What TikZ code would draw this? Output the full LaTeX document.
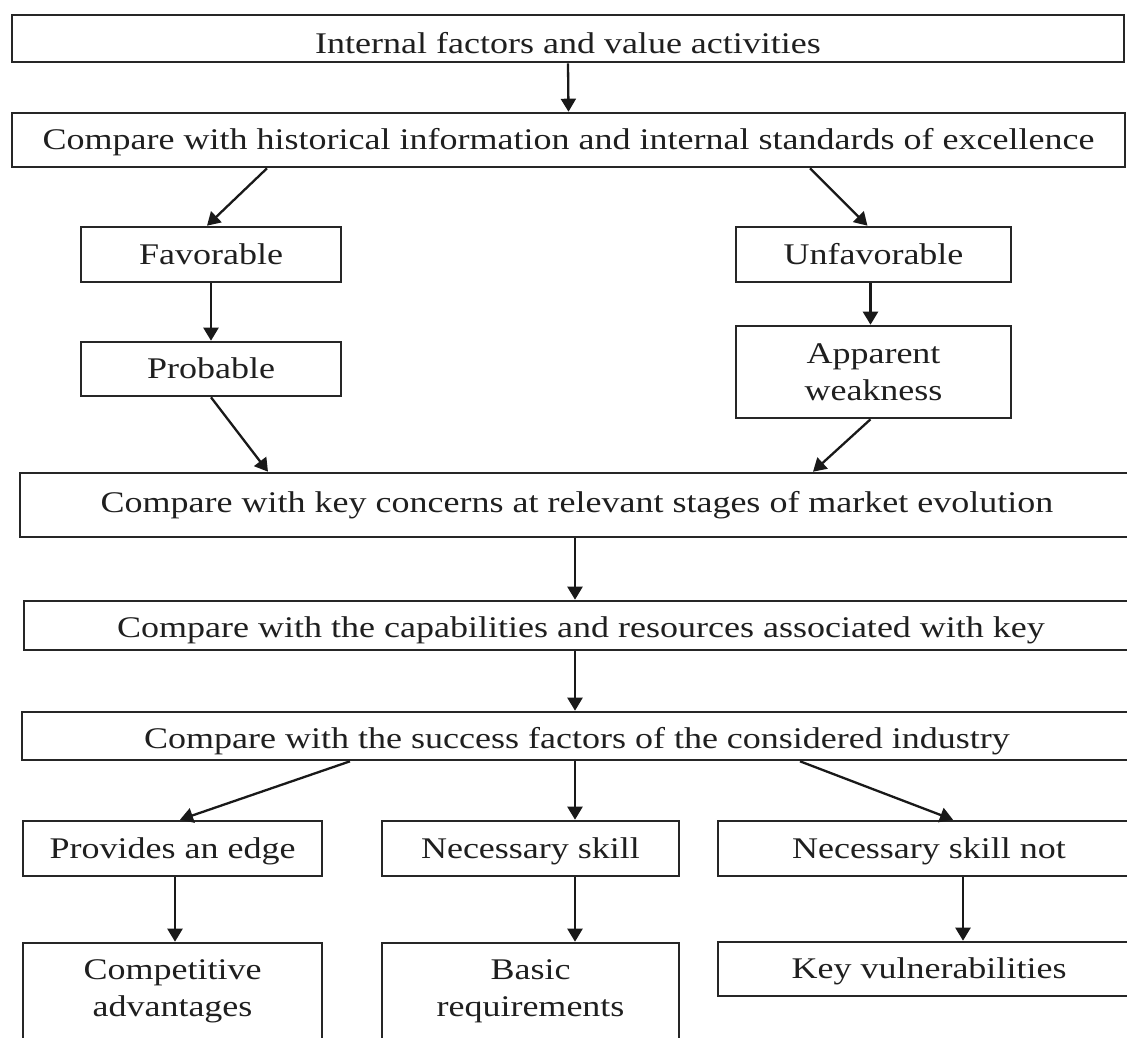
\documentclass[tikz,border=0pt]{standalone}
\usepackage{fontspec}
\setmainfont{Liberation Serif}[FakeStretch=1.2]
\usetikzlibrary{arrows.meta}
\begin{document}
\begin{tikzpicture}[x=1pt,y=-1pt,
  box/.style={draw=black!85, line width=2.6pt, inner sep=0pt, text=black!88,
    font=\fontsize{30}{37}\selectfont, text height=#1, text depth=2pt},
  box/.default=21pt,
  mbox/.style={draw=black!85, line width=2.6pt, inner sep=0pt, align=center,
    text=black!88, font=\fontsize{30}{37}\selectfont},
  flow/.style={draw=black!90, line width=2.3pt, -{Triangle[length=13pt,width=15pt]}}]
\fill[white] (0,0) rectangle (1127,1037);
\useasboundingbox (0,0) rectangle (1127,1037);
\clip (0,0) rectangle (1127,1037);

% main chain
\node[box=31pt, minimum width=1112pt, minimum height=47pt] (b1) at (568,38.5) {Internal factors and value activities};
\node[box, minimum width=1113pt, minimum height=54pt] (b2) at (568.5,140) {Compare with historical information and internal standards of excellence};

% favourable / unfavourable branches
\node[box, minimum width=260pt, minimum height=55pt] (fav) at (211,254.5) {Favorable};
\node[box, minimum width=260pt, minimum height=54pt] (prob) at (211,369) {Probable};
\node[box, minimum width=275pt, minimum height=55pt] (unf) at (873.5,254.5) {Unfavorable};
\node[mbox, minimum width=275pt, minimum height=92pt] (app) at (873.5,372) {Apparent\\weakness};

\node[box=16pt, minimum width=1114pt, minimum height=64pt] (b3) at (577,505) {Compare with key concerns at relevant stages of market evolution};
\node[box=25pt, minimum width=1114pt, minimum height=49pt] (b4) at (581,625.5) {Compare with the capabilities and resources associated with key};
\node[box=26pt, minimum width=1110pt, minimum height=48pt] (b5) at (577,736) {Compare with the success factors of the considered industry};

% outcomes
\node[box, minimum width=299pt, minimum height=55pt] (edge) at (172.5,848.5) {Provides an edge};
\node[box, minimum width=297pt, minimum height=55pt] (nec) at (530.5,848.5) {Necessary skill};
\node[box, minimum width=422pt, minimum height=55pt] (nnot) at (929,848.5) {Necessary skill not};
\node[mbox, minimum width=299pt, minimum height=97pt] (comp) at (172.5,991.5) {Competitive\\advantages};
\node[mbox, minimum width=297pt, minimum height=97pt] (basic) at (530.5,991.5) {Basic\\requirements};
\node[box, minimum width=422pt, minimum height=54pt] (key) at (929,969) {Key vulnerabilities};

% connectors
\draw[flow] (b1.south) -- (b2.north);
\draw[flow] ([xshift=-301.5pt]b2.south) -- ([xshift=-4pt]fav.north);
\draw[flow] ([xshift=241.5pt]b2.south) -- ([xshift=-6pt]unf.north);
\draw[flow] (fav.south) -- (prob.north);
\draw[flow] ([xshift=-3pt]unf.south) -- ([xshift=-3pt]app.north);
\draw[flow] (prob.south) -- ([xshift=-309pt]b3.north);
\draw[flow] ([xshift=-3pt]app.south) -- ([xshift=236pt]b3.north);
\draw[flow] ([xshift=-2pt]b3.south) -- ([xshift=-6pt]b4.north);
\draw[flow] ([xshift=-6pt]b4.south) -- ([xshift=-2pt]b5.north);
\draw[flow] ([xshift=-227pt]b5.south) -- ([xshift=7.5pt]edge.north);
\draw[flow] ([xshift=-2pt]b5.south) -- ([xshift=44.5pt]nec.north);
\draw[flow] ([xshift=223pt]b5.south) -- ([xshift=24pt]nnot.north);
\draw[flow] ([xshift=2.5pt]edge.south) -- ([xshift=2.5pt]comp.north);
\draw[flow] ([xshift=44.5pt]nec.south) -- ([xshift=44.5pt]basic.north);
\draw[flow] ([xshift=34pt]nnot.south) -- ([xshift=34pt]key.north);
\end{tikzpicture}
\end{document}
